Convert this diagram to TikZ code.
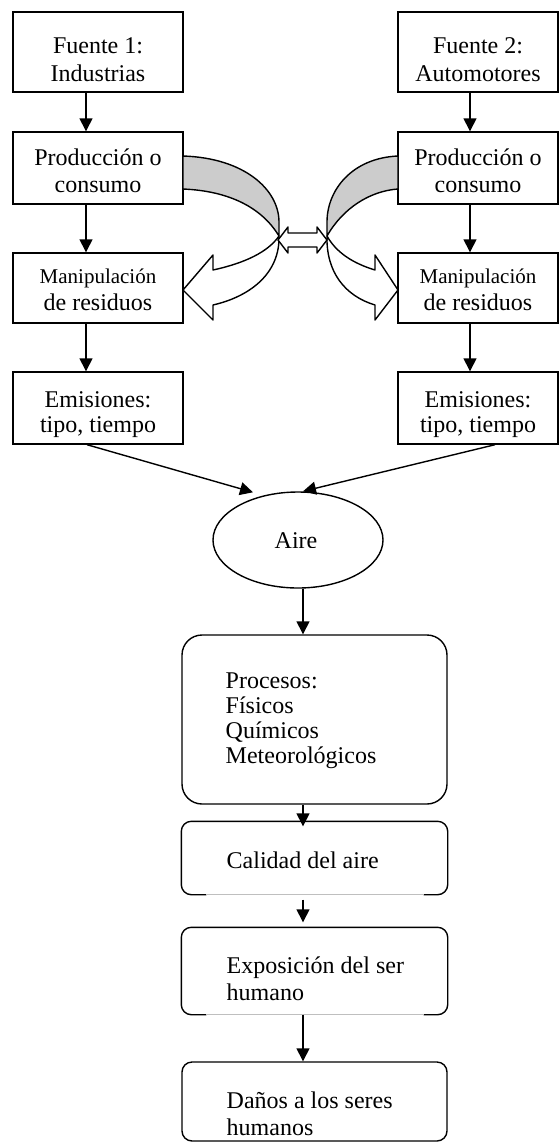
\documentclass[tikz,border=0pt]{standalone}
\usepackage{fontspec}
\setmainfont{Liberation Serif}
\usetikzlibrary{shapes.geometric,arrows.meta,calc}
\begin{document}
\begin{tikzpicture}[x=1pt,y=-1pt, line width=1.4pt,
  box/.style={draw, rectangle, inner sep=0pt},
  rbox/.style={draw, rectangle, rounded corners=10pt, inner sep=0pt},
  ghost/.style={rectangle, inner sep=0pt},
  txt/.style={font=\fontsize{24}{27}\selectfont, inner sep=0pt, anchor=base},
  smalltxt/.style={font=\fontsize{21}{24}\selectfont, inner sep=0pt, anchor=base},
  ltxt/.style={txt, anchor=base west},
  arr/.style={-{Triangle[length=13pt,width=13pt]}, line width=1.4pt},
  band/.style={line width=1.4pt, line join=round}]
\useasboundingbox (0,0) rectangle (559,1144);
\fill[white] (0,0) rectangle (559,1144);

% column guides
\coordinate (lc) at (86,0);
\coordinate (rc) at (470,0);
\coordinate (cc) at (303,0);

% left column
\node[box, minimum width=170pt, minimum height=80pt] (f1) at (98,52) {};
\node[box, minimum width=170pt, minimum height=72pt] (p1) at (98,168) {};
\node[box, minimum width=170pt, minimum height=70pt] (m1) at (98,288) {};
\node[box, minimum width=170pt, minimum height=72pt] (e1) at (98,408) {};
% right column
\node[box, minimum width=160pt, minimum height=80pt] (f2) at (478,52) {};
\node[box, minimum width=160pt, minimum height=72pt] (p2) at (478,168) {};
\node[box, minimum width=160pt, minimum height=70pt] (m2) at (478,288) {};
\node[box, minimum width=160pt, minimum height=72pt] (e2) at (478,408) {};

% air
\node[draw, ellipse, minimum width=170pt, minimum height=96pt, inner sep=0pt] (aire) at (298,540) {};

% lower boxes
\node[rbox, rounded corners=20pt, minimum width=265pt, minimum height=169pt] (proc) at (314.5,719.5) {};
\node[ghost, minimum width=265pt, minimum height=72pt] (cal) at (314.5,858) {};
\node[ghost, minimum width=265pt, minimum height=86pt] (expo) at (314.5,971) {};
\node[rbox, minimum width=265pt, minimum height=79pt] (dan) at (314.5,1101.5) {};

\draw[rounded corners=10pt] ($(cal.south west)+(25,0)$) -- (cal.south west) -- (cal.north west) -- (cal.north east) -- (cal.south east) -- ($(cal.south east)+(-24,0)$);
\draw[black!25, line width=0.6pt] ($(cal.south west)+(25,0)$) -- ($(cal.south east)+(-24,0)$);
\draw[rounded corners=10pt] ($(expo.south west)+(25,0)$) -- (expo.south west) -- (expo.north west) -- (expo.north east) -- (expo.south east) -- ($(expo.south east)+(-24,0)$);
\draw[black!25, line width=0.6pt] ($(expo.south west)+(25,0)$) -- ($(expo.south east)+(-24,0)$);

% texts
\node[txt] (f1a) at (98,53) {Fuente 1:};
\node[txt] (f1b) at (98,81) {Industrias};
\node[txt] (f2a) at (478,53) {Fuente 2:};
\node[txt] (f2b) at (478,81) {Automotores};
\node[txt] (p1a) at (98,165) {Producción o};
\node[txt] (p1b) at (98,192) {consumo};
\node[txt] (p2a) at (478,165) {Producción o};
\node[txt] (p2b) at (478,192) {consumo};
\node[smalltxt] (m1a) at (98,283) {Manipulación};
\node[txt] (m1b) at (98,310) {de residuos};
\node[smalltxt] (m2a) at (478,283) {Manipulación};
\node[txt] (m2b) at (478,310) {de residuos};
\node[txt] (e1a) at (98,407) {Emisiones:};
\node[txt] (e2a) at (478,407) {Emisiones:};
\begin{scope}
  \clip (0,0) rectangle (559,437);
  \node[txt] (e1b) at (98,432) {tipo, tiempo};
  \node[txt] (e2b) at (478,432) {tipo, tiempo};
\end{scope}
\begin{scope}
  \clip (0,0) rectangle (559,547.5);
  \node[txt] (airet) at (296,548) {Aire};
\end{scope}
\node[ltxt] (proca) at (225,688) {Procesos:};
\node[ltxt] (procb) at (225,713) {Físicos};
\node[ltxt] (procc) at (225,738) {Químicos};
\node[ltxt] (procd) at (225,763) {Meteorológicos};
\node[ltxt] (calt) at (226,868) {Calidad del aire};
\node[ltxt] (expoa) at (226,973) {Exposición del ser};
\node[ltxt] (expob) at (226,1000) {humano};
\node[ltxt] (dana) at (226,1108) {Daños a los seres};
\node[ltxt] (danb) at (226,1135) {humanos};

% straight arrows
\draw[arr] (f1.south -| lc) -- (p1.north -| lc);
\draw[arr] (p1.south -| lc) -- (m1.north -| lc);
\draw[arr] (m1.south -| lc) -- (e1.north -| lc);
\draw[arr] (f2.south -| rc) -- (p2.north -| rc);
\draw[arr] (p2.south -| rc) -- (m2.north -| rc);
\draw[arr] (m2.south -| rc) -- (e2.north -| rc);
\draw[arr] ($(e1.south)+(-11,0)$) -- ($(aire.north)+(-45,1)$);
\draw[arr] ($(e2.south)+(17,0)$) -- ($(aire.north)+(5,0)$);
\draw[arr] (aire.south -| cc) -- (proc.north -| cc);
\draw[arr] (proc.south -| cc) -- ($(cal.north -| cc)+(0,5)$);
\draw[arr] ($(cal.south -| cc)+(0,5)$) -- ($(expo.north -| cc)+(0,-5)$);
\draw[arr] (expo.south -| cc) -- (dan.north -| cc);

% curved block arrows (left)
\filldraw[band, fill=black!20] (183,156) .. controls (245,158) and (279,190) .. (279,222) -- (279,236) .. controls (262,208) and (230,191) .. (183,189) -- cycle;
\filldraw[band, fill=white] (279,236) .. controls (268,252) and (245,263) .. (213,270) -- (213,255) -- (183,290) -- (213,320) -- (213,305) .. controls (252,296) and (280,272) .. (279,236) -- cycle;
% curved block arrows (right)
\filldraw[band, fill=black!20] (398,156) .. controls (352,158) and (327,190) .. (327,222) -- (327,236) .. controls (343,208) and (370,191) .. (398,189) -- cycle;
\filldraw[band, fill=white] (327,236) .. controls (336,252) and (352,263) .. (375,270) -- (375,255) -- (398,290) -- (375,320) -- (375,305) .. controls (345,296) and (326,272) .. (327,236) -- cycle;
% double arrow
\filldraw[band, fill=white] (278,240) -- (288,227) -- (288,233) -- (317,233) -- (317,227) -- (327,240) -- (317,253) -- (317,247) -- (288,247) -- (288,253) -- cycle;
\end{tikzpicture}
\end{document}
